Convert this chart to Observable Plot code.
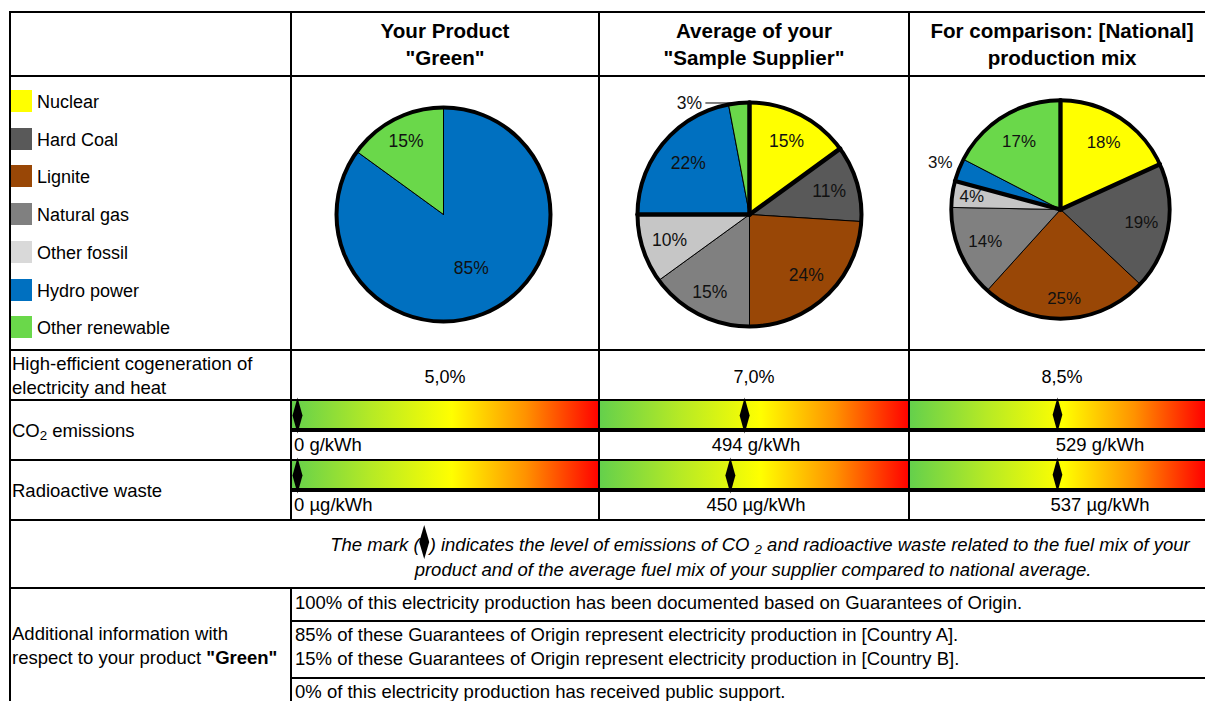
<!DOCTYPE html>
<html>
<head>
<meta charset="utf-8">
<script src="https://cdn.jsdelivr.net/npm/d3@7"></script>
<script src="https://cdn.jsdelivr.net/npm/@observablehq/plot@0.6"></script>
<style>
  html, body { margin: 0; padding: 0; background: #fff; }
  body { font-family: "Liberation Sans", Arial, sans-serif; }
  #root { position: relative; width: 1205px; height: 701px; overflow: hidden; background: #fff; }
  .ln { position: absolute; background: #000; }
  .t { position: absolute; white-space: nowrap; font-size: 18.5px; line-height: 1; color: #000; }
  .t sub { font-size: 0.72em; vertical-align: -0.25em; line-height: 0; }
  .box { position: absolute; }
  .box svg { display: block; overflow: visible; }
</style>
</head>
<body>
<div id="root"></div>
<script>
// ---------------- DATA ----------------
const sources = ["Nuclear", "Hard Coal", "Lignite", "Natural gas", "Other fossil", "Hydro power", "Other renewable"];
const sourceGroups = ["Nuclear", "Fossil", "Fossil", "Fossil", "Fossil", "Renewable", "Renewable"];
const sourceColors = ["#ffff00", "#595959", "#994706", "#808080", "#c6c6c6", "#0070c0", "#6ad84a"];

const columnTitles = [
  ["Your Product", "\"Green\""],
  ["Average of your", "\"Sample Supplier\""],
  ["For comparison: [National]", "production mix"]
];

const productMix  = [0, 0, 0, 0, 0, 85, 15];
const supplierMix = [15, 11, 24, 15, 10, 22, 3];
const nationalMix = [18.2, 18.8, 24.7, 13.6, 3.9, 3.4, 17.4];

const cogenerationLabel = ["High-efficient cogeneration of", "electricity and heat"];
const cogenerationValues = ["5,0%", "7,0%", "8,5%"];

const co2Label = "CO<sub>2</sub> emissions";
const co2Values = [0, 494, 529];
const co2Unit = "g/kWh";

const wasteLabel = "Radioactive waste";
const wasteValues = [0, 450, 537];
const wasteUnit = "µg/kWh";

const noteLines = [
  "The mark (<span class=\"dm\"></span>) indicates the level of emissions of CO <sub>2</sub> and radioactive waste related to the fuel mix of your",
  "product and of the average fuel mix of your supplier compared to national average."
];

const additionalLabel = ["Additional information with", "respect to your product <b>\"Green\"</b>"];
const additionalInfo = [
  ["100% of this electricity production has been documented based on Guarantees of Origin."],
  ["85% of these Guarantees of Origin represent electricity production in [Country A].",
   "15% of these Guarantees of Origin represent electricity production in [Country B]."],
  ["0% of this electricity production has received public support."]
];

// ---------------- LAYOUT (styling only) ----------------
const FONT = "'Liberation Sans', Arial, sans-serif";
const colX = [10, 291, 599, 909, 1215];          // column borders
const colCenter = [445, 754, 1062];
const pieLayout = [
  {cx: 442.5, cy: 213.5, R: 107, labelR: [0, 0, 0, 0, 0, 0.57, 0.77]},
  {cx: 749,   cy: 213.5, R: 112, labelR: [0.73, 0.74, 0.74, 0.78, 0.75, 0.71, "leader"]},
  {cx: 1065,  cy: 213.5, R: 113, labelR: [0.73, 0.75, 0.82, 0.75, 0.82, 1.18, 0.73]}
];
const mixes = [productMix, supplierMix, nationalMix];

const root = document.getElementById("root");

function addText(html, x, y, opts = {}) {
  const d = document.createElement("div");
  d.className = "t";
  d.innerHTML = html;
  d.style.left = x + "px";
  d.style.top = y + "px";
  const tx = opts.anchor === "middle" ? "-50%" : opts.anchor === "end" ? "-100%" : "0";
  d.style.transform = `translate(${tx}, -50%)`;
  if (opts.size) d.style.fontSize = opts.size + "px";
  if (opts.bold) d.style.fontWeight = "bold";
  if (opts.italic) d.style.fontStyle = "italic";
  root.appendChild(d);
  return d;
}
function addBox(el, x, y) {
  const d = document.createElement("div");
  d.className = "box";
  d.style.left = x + "px";
  d.style.top = y + "px";
  d.appendChild(el);
  root.appendChild(d);
}
function hline(x0, x1, y, w = 2) {
  const d = document.createElement("div");
  d.className = "ln";
  d.style.left = x0 + "px"; d.style.width = (x1 - x0) + "px";
  d.style.top = (y - w / 2) + "px"; d.style.height = w + "px";
  root.appendChild(d);
}
function vline(x, y0, y1, w = 2) {
  const d = document.createElement("div");
  d.className = "ln";
  d.style.left = (x - w / 2) + "px"; d.style.width = w + "px";
  d.style.top = y0 + "px"; d.style.height = (y1 - y0) + "px";
  root.appendChild(d);
}

// ---------------- PIES ----------------
const S = 300;
mixes.forEach((values, p) => {
  const L = pieLayout[p];
  const h = (S / 2) / L.R;
  const arcs = d3.pie().sort(null).value(d => d)(values);
  const poly = [], bounds = [], labels = [], leaders = [];
  const nonzero = arcs.filter(a => a.value > 0);
  nonzero.forEach((a, k) => {
    const i = a.index;
    const n = Math.max(2, Math.ceil((a.endAngle - a.startAngle) / (Math.PI / 180)));
    poly.push({i, x: 0, y: 0, fill: sourceColors[i]});
    for (let s = 0; s <= n; s++) {
      const t = a.startAngle + (a.endAngle - a.startAngle) * s / n;
      poly.push({i, x: Math.sin(t), y: Math.cos(t), fill: sourceColors[i]});
    }
    poly.push({i, x: 0, y: 0, fill: sourceColors[i]});
    const next = nonzero[(k + 1) % nonzero.length];
    if (nonzero.length > 1 && sourceGroups[next.index] !== sourceGroups[i]) {
      bounds.push({x1: 0, y1: 0, x2: Math.sin(a.endAngle), y2: Math.cos(a.endAngle)});
    }
    const mid = (a.startAngle + a.endAngle) / 2;
    const txt = Math.round(a.value) + "%";
    const lr = L.labelR[i];
    if (lr === "leader") {
      const ex = Math.sin(mid), ey = Math.cos(mid);
      leaders.push({x1: ex, y1: ey, x2: ex - 0.3, y2: ey});
      labels.push({x: ex - 0.33, y: ey, text: txt, anchor: "end"});
    } else {
      labels.push({x: lr * Math.sin(mid), y: lr * Math.cos(mid), text: txt, anchor: "middle"});
    }
  });
  const chart = Plot.plot({
    width: S, height: S, margin: 0,
    x: {domain: [-h, h], axis: null},
    y: {domain: [-h, h], axis: null},
    color: {type: "identity"},
    style: {fontFamily: FONT, background: "none", overflow: "visible"},
    marks: [
      Plot.line(poly, {x: "x", y: "y", z: "i", fill: "fill", stroke: "#000", strokeWidth: 1, strokeLinejoin: "round"}),
      Plot.link(bounds, {x1: "x1", y1: "y1", x2: "x2", y2: "y2", stroke: "#000", strokeWidth: 4.5, strokeLinecap: "round"}),
      Plot.dot([{x: 0, y: 0}], {x: "x", y: "y", r: L.R, fill: "none", stroke: "#000", strokeWidth: 4}),
      Plot.link(leaders, {x1: "x1", y1: "y1", x2: "x2", y2: "y2", stroke: "#000", strokeWidth: 1}),
      Plot.text(labels.filter(d => d.anchor === "middle"), {x: "x", y: "y", text: "text", fontSize: 17.5, fill: "#111", textAnchor: "middle"}),
      Plot.text(labels.filter(d => d.anchor === "end"), {x: "x", y: "y", text: "text", fontSize: 17.5, fill: "#111", textAnchor: "end"})
    ]
  });
  addBox(chart, L.cx - S / 2, L.cy - S / 2);
});

// ---------------- GRADIENT BARS ----------------
const diamond = {
  draw(ctx) {
    ctx.moveTo(0, -18); ctx.lineTo(5, 0); ctx.lineTo(0, 18); ctx.lineTo(-5, 0); ctx.closePath();
  }
};
function gradientBar(value, maxValue, width, id) {
  const svg = Plot.plot({
    width, height: 40,
    marginTop: 5, marginBottom: 5, marginLeft: 0, marginRight: 0,
    x: {domain: [0, maxValue], range: [6, width - 6], axis: null},
    style: {background: "none", overflow: "visible"},
    marks: [
      Plot.frame({fill: `url(#${id})`, stroke: "none"}),
      Plot.dot([value], {x: d => d, symbol: diamond, fill: "#000", stroke: "none"})
    ]
  });
  const g = d3.select(svg).insert("defs", ":first-child")
    .append("linearGradient").attr("id", id).attr("x1", "0%").attr("x2", "100%").attr("y1", "0%").attr("y2", "0%");
  [[0, "#64d04c"], [0.26, "#b6ea25"], [0.52, "#ffff00"], [0.76, "#ff9200"], [1, "#ff0000"]]
    .forEach(([o, c]) => g.append("stop").attr("offset", o).attr("stop-color", c));
  return svg;
}
[[co2Values, 400, "co2"], [wasteValues, 460, "waste"]].forEach(([vals, top, key]) => {
  const nat = vals[2];
  vals.forEach((v, c) => {
    const x0 = colX[c + 1], w = colX[c + 2] - x0;
    addBox(gradientBar(v, 2 * nat, w, `grad-${key}-${c}`), x0, top - 5);
  });
});

// ---------------- TEXT ----------------
columnTitles.forEach((lines, c) => {
  addText(lines[0], colCenter[c], 31, {anchor: "middle", bold: true, size: 20.6});
  addText(lines[1], colCenter[c], 58, {anchor: "middle", bold: true, size: 20.6});
});

// legend
sources.forEach((s, i) => {
  const y = 101 + i * 37.7;
  const sw = document.createElement("div");
  sw.className = "box";
  sw.style.left = "11px"; sw.style.top = (y - 11) + "px";
  sw.style.width = "21px"; sw.style.height = "22px";
  sw.style.background = i === 4 ? "#d9d9d9" : sourceColors[i];
  root.appendChild(sw);
  addText(s, 37, y + 1, {size: 18});
});

addText(cogenerationLabel[0], 12, 364);
addText(cogenerationLabel[1], 12, 388);
cogenerationValues.forEach((v, c) => addText(v, colCenter[c], 377, {anchor: "middle", size: 18}));

addText(co2Label, 12, 431);
addText(wasteLabel, 12, 491);
const valueCenters = [null, 756, 1100];
[[co2Values, co2Unit, 445], [wasteValues, wasteUnit, 505]].forEach(([vals, unit, y]) => {
  vals.forEach((v, c) => {
    const s = `${v} ${unit}`;
    if (c === 0) addText(s, 294, y);
    else addText(s, valueCenters[c], y, {anchor: "middle"});
  });
});

// note
const n1 = addText(noteLines[0], 760, 543, {anchor: "middle", italic: true, size: 18.5});
addText(noteLines[1], 753, 570, {anchor: "middle", italic: true, size: 18.5});
const dm = n1.querySelector(".dm");
dm.style.display = "inline-block";
dm.style.position = "relative";
dm.style.width = "10px";
dm.style.height = "1em";
dm.innerHTML = '<svg width="12" height="36" viewBox="-6 -18 12 36" style="position:absolute;left:-1px;top:-8px;overflow:visible"><path d="M0,-17L5,0L0,17L-5,0Z" fill="#000"/></svg>';

// additional info
addText(additionalLabel[0], 12, 634);
addText(additionalLabel[1], 12, 658);
addText(additionalInfo[0][0], 295, 603);
addText(additionalInfo[1][0], 295, 635);
addText(additionalInfo[1][1], 295, 659);
addText(additionalInfo[2][0], 295, 692);

// ---------------- TABLE LINES ----------------
[12, 76, 350, 400, 460, 520, 588].forEach(y => hline(9, 1230, y, 2.5));
hline(291, 1230, 430, 3.5);
hline(291, 1230, 490, 3.5);
hline(291, 1230, 621, 2.5);
hline(291, 1230, 678, 2.5);
vline(10, 11, 720, 2.5);
vline(291, 11, 521, 2.5);
vline(291, 587, 720, 2.5);
vline(599, 11, 521, 2.5);
vline(909, 11, 521, 2.5);
</script>
</body>
</html>
